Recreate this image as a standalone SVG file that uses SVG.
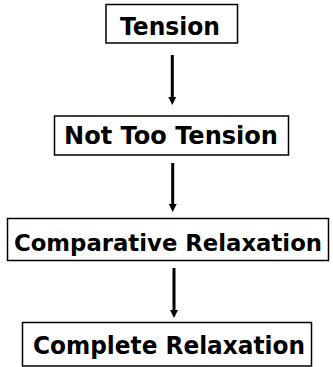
<svg xmlns="http://www.w3.org/2000/svg" width="333" height="367" viewBox="0 0 333 367">
<style>
.box{fill:#fff;stroke:#000;stroke-width:1.5}
.lbl{font-family:"DejaVu Sans",Verdana,sans-serif;font-weight:bold;fill:#000;text-anchor:middle;font-size:25px}
.conn{stroke:#000;stroke-width:3;fill:none}
</style>
<defs>
<marker id="ah" viewBox="0 0 8 8" refX="0" refY="4" markerWidth="8" markerHeight="8" markerUnits="userSpaceOnUse" orient="auto">
<path d="M0,0 L8,4 L0,8 Z" fill="#000"/>
</marker>
</defs>
<rect width="333" height="367" fill="#fff"/>
<g id="n1"><rect class="box" x="106" y="4.5" width="131.5" height="38.5"/><text class="lbl" x="170" y="35" textLength="100" lengthAdjust="spacingAndGlyphs">Tension</text></g>
<g id="n2"><rect class="box" x="54.5" y="116" width="234" height="39"/><text class="lbl" x="171" y="143.5" textLength="214" lengthAdjust="spacingAndGlyphs">Not Too Tension</text></g>
<g id="n3"><rect class="box" x="7.5" y="218.5" width="321" height="42"/><text class="lbl" x="168" y="251" style="font-size:23.5px" textLength="308" lengthAdjust="spacingAndGlyphs">Comparative Relaxation</text></g>
<g id="n4"><rect class="box" x="22.5" y="322.5" width="289" height="43.5"/><text class="lbl" x="169" y="354" textLength="272" lengthAdjust="spacingAndGlyphs">Complete Relaxation</text></g>
<g id="connectors">
<line class="conn" x1="172.3" y1="55" x2="172.3" y2="97" marker-end="url(#ah)"/>
<line class="conn" x1="172.7" y1="163" x2="172.7" y2="204" marker-end="url(#ah)"/>
<line class="conn" x1="174" y1="268" x2="174" y2="310" marker-end="url(#ah)"/>
</g>
</svg>
